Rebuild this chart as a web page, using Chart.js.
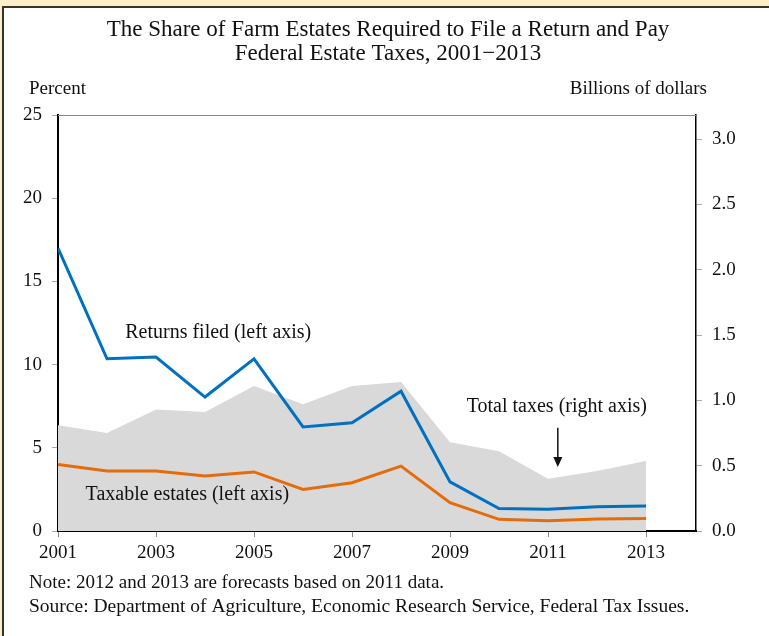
<!DOCTYPE html>
<html>
<head>
<meta charset="utf-8">
<script src="https://cdn.jsdelivr.net/npm/chart.js@4"></script>
<style>
  body { margin: 0; background: #fcefc8; }
  #frame { position: absolute; left: 2px; top: 6px; width: 767px; height: 630px;
           border-left: 2px solid #333; border-top: 2px solid #333; background: #fff; box-sizing: border-box; }
  #wrap { position: absolute; left: 0; top: 0; width: 769px; height: 636px; }
</style>
</head>
<body>
<div id="frame"></div>
<div id="wrap"><canvas id="mychart"></canvas></div>
<script>
let years = [2001, 2002, 2003, 2004, 2005, 2006, 2007, 2008, 2009, 2010, 2011, 2012, 2013];
let returnsFiled = [17.0, 10.35, 10.45, 8.05, 10.35, 6.25, 6.5, 8.4, 2.95, 1.35, 1.3, 1.45, 1.5];
let taxableEstates = [4.0, 3.6, 3.6, 3.3, 3.55, 2.5, 2.9, 3.9, 1.7, 0.7, 0.62, 0.72, 0.75];
let totalTaxes = [0.81, 0.75, 0.93, 0.91, 1.11, 0.97, 1.11, 1.14, 0.68, 0.61, 0.40, 0.46, 0.535];
let leftTicks = [0, 5, 10, 15, 20, 25];
let rightTicks = [0, 0.5, 1.0, 1.5, 2.0, 2.5, 3.0];

let serif = '"Liberation Serif", "Times New Roman", serif';

function pts(vals) {
    return vals.map((v, i) => ({ x: years[i], y: v }));
}

let notes = {
    id: 'notes',
    afterDatasetsDraw(chart) {
        let c = chart.ctx, x = chart.scales.x, y = chart.scales.y, a = chart.chartArea;
        c.save();
        // top border of plot
        c.strokeStyle = '#888';
        c.lineWidth = 1;
        c.beginPath();
        c.moveTo(a.left, a.top + 0.5);
        c.lineTo(a.right, a.top + 0.5);
        c.stroke();

        c.fillStyle = '#111';
        c.font = '20px ' + serif;
        c.textAlign = 'center';
        c.textBaseline = 'middle';
        c.fillText('Returns filed (left axis)', x.getPixelForValue(2004.27), y.getPixelForValue(11.9));
        c.fillText('Total taxes (right axis)', x.getPixelForValue(2011.18), y.getPixelForValue(7.45));
        c.fillText('Taxable estates (left axis)', x.getPixelForValue(2003.64), y.getPixelForValue(2.16));

        // arrow
        let ax = x.getPixelForValue(2011.2);
        let y0 = y.getPixelForValue(6.2), y1 = y.getPixelForValue(3.85);
        c.strokeStyle = '#111';
        c.lineWidth = 1.5;
        c.beginPath();
        c.moveTo(ax, y0);
        c.lineTo(ax, y1 - 6);
        c.stroke();
        c.beginPath();
        c.moveTo(ax - 4.5, y1 - 10);
        c.lineTo(ax + 4.5, y1 - 10);
        c.lineTo(ax, y1);
        c.closePath();
        c.fill();

        // title
        c.font = '23px ' + serif;
        c.fillText('The Share of Farm Estates Required to File a Return and Pay', 388, 30);
        c.fillText('Federal Estate Taxes, 2001\u22122013', 388, 54);

        // axis titles
        c.font = '19px ' + serif;
        c.textAlign = 'left';
        c.fillText('Percent', 29, 89);
        c.textAlign = 'right';
        c.fillText('Billions of dollars', 707, 89);

        // footnotes
        c.textAlign = 'left';
        c.fillText('Note: 2012 and 2013 are forecasts based on 2011 data.', 29, 583);
        c.font = '19.5px ' + serif;
        c.fillText('Source: Department of Agriculture, Economic Research Service, Federal Tax Issues.', 29, 607);
        c.restore();
    }
};

let ctx = document.querySelector('#mychart').getContext('2d');
let myChart = new Chart(ctx, {
    type: 'line',
    data: {
        datasets: [{
            label: 'Returns filed',
            data: pts(returnsFiled),
            borderColor: '#0070c0',
            borderWidth: 3,
            pointRadius: 0,
            yAxisID: 'y'
        }, {
            label: 'Taxable estates',
            data: pts(taxableEstates),
            borderColor: '#e46c0a',
            borderWidth: 3,
            pointRadius: 0,
            yAxisID: 'y'
        }, {
            label: 'Total taxes',
            data: pts(totalTaxes),
            borderWidth: 0,
            borderColor: 'rgba(0,0,0,0)',
            backgroundColor: '#d9d9d9',
            fill: 'origin',
            pointRadius: 0,
            yAxisID: 'y2'
        }]
    },
    options: {
        responsive: true,
        maintainAspectRatio: false,
        animation: false,
        layout: { padding: { top: 115, left: 0, right: 0, bottom: 0 } },
        plugins: {
            legend: { display: false },
            tooltip: { enabled: false }
        },
        scales: {
            x: {
                type: 'linear',
                min: 2001,
                max: 2014.02,
                afterBuildTicks: s => { s.ticks = years.filter(v => v % 2 === 1).map(v => ({ value: v })); },
                afterFit: s => { s.height = 105; },
                border: { color: '#000', width: 2 },
                grid: { drawOnChartArea: false, drawTicks: true, tickLength: 6, color: '#888' },
                ticks: { color: '#111', font: { family: serif, size: 19 }, padding: 5, maxRotation: 0,
                         callback: v => String(v) }
            },
            y: {
                position: 'left',
                min: 0,
                max: 25,
                afterBuildTicks: s => { s.ticks = leftTicks.map(v => ({ value: v })); },
                afterFit: s => { s.width = 58; },
                border: { color: '#000', width: 2 },
                grid: { drawOnChartArea: false, drawTicks: true, tickLength: 6, color: '#aaa' },
                ticks: { color: '#111', font: { family: serif, size: 19 }, padding: 10 }
            },
            y2: {
                position: 'right',
                min: 0,
                max: 3.184,
                afterBuildTicks: s => { s.ticks = rightTicks.map(v => ({ value: v })); },
                afterFit: s => { s.width = 73; },
                border: { color: '#000', width: 1.5 },
                grid: { drawOnChartArea: false, drawTicks: true, tickLength: 6, color: '#aaa' },
                ticks: { color: '#111', font: { family: serif, size: 19 }, padding: 10,
                         callback: v => v.toFixed(1) }
            }
        }
    },
    plugins: [notes]
});
</script>
</body>
</html>
